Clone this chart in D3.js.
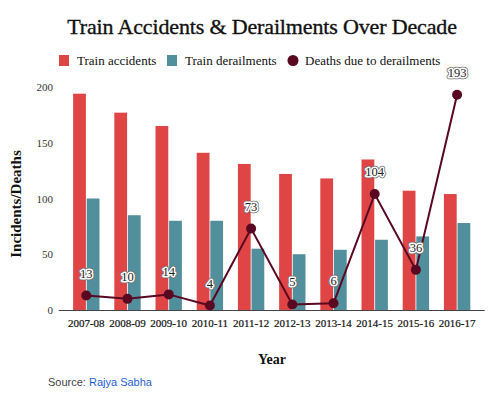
<!DOCTYPE html>
<html>
<head>
<meta charset="utf-8">
<script src="https://cdn.jsdelivr.net/npm/d3@7"></script>
<style>
  body { margin: 0; background: #fff; }
  svg { display: block; }
</style>
</head>
<body>
<div id="chart"></div>
<script>
// chart data
var years = ["2007-08", "2008-09", "2009-10", "2010-11", "2011-12", "2012-13", "2013-14", "2014-15", "2015-16", "2016-17"]
var accidents = [194, 177, 165, 141, 131, 122, 118, 135, 107, 104]
var derailments = [100, 85, 80, 80, 55, 50, 54, 63, 66, 78]
var deaths = [13, 10, 14, 4, 73, 5, 6, 104, 36, 193]
var yTicks = [0, 50, 100, 150, 200]

var width = 500,
    height = 394

var serif = "'Liberation Serif', 'DejaVu Serif', serif"

var svg = d3.select("#chart")
    .append("svg")
    .attr("width", width)
    .attr("height", height)

// scales
var x = d3.scaleBand()
    .domain(years)
    .range([65.7, 477.7])
    .paddingInner(0.36)
    .paddingOuter(0.18)

var xSub = d3.scaleBand()
    .domain(["acc", "der"])
    .range([0, x.bandwidth()])
    .paddingInner(0.06)

var y = d3.scaleLinear()
    .domain([0, 200])
    .range([310, 87])

// title
svg.append("text")
    .attr("x", 262)
    .attr("y", 34)
    .attr("text-anchor", "middle")
    .style("font-family", serif)
    .style("font-size", "22px")
    .style("letter-spacing", "-0.15px")
    .style("fill", "#111")
    .style("stroke", "#111")
    .style("stroke-width", "0.35px")
    .text("Train Accidents & Derailments Over Decade")

// legend
var legend = svg.append("g").style("font-family", serif).style("font-size", "13px").style("fill", "#111")
legend.append("rect").attr("x", 59).attr("y", 55).attr("width", 10).attr("height", 11).attr("fill", "#e04545")
legend.append("text").attr("x", 77).attr("y", 65).text("Train accidents")
legend.append("rect").attr("x", 167).attr("y", 55).attr("width", 10).attr("height", 11).attr("fill", "#528f9c")
legend.append("text").attr("x", 185).attr("y", 65).text("Train derailments")
legend.append("circle").attr("cx", 293).attr("cy", 60.5).attr("r", 5.5).attr("fill", "#5a0722")
legend.append("text").attr("x", 305).attr("y", 65).text("Deaths due to derailments")

// y tick labels (no axis line)
svg.selectAll(".ytick")
    .data(yTicks)
    .enter()
    .append("text")
    .attr("class", "ytick")
    .attr("x", 53)
    .attr("y", function(d) { return y(d) + 4 })
    .attr("text-anchor", "end")
    .style("font-family", serif)
    .style("font-size", "11px")
    .style("fill", "#333")
    .text(function(d) { return d })

// y axis title
svg.append("text")
    .attr("transform", "translate(21,204) rotate(-90)")
    .attr("text-anchor", "middle")
    .style("font-family", serif)
    .style("font-size", "15px")
    .style("font-weight", "bold")
    .style("fill", "#111")
    .text("Incidents/Deaths")

// bars
var groups = svg.selectAll(".grp")
    .data(years)
    .enter()
    .append("g")
    .attr("transform", function(d) { return "translate(" + x(d) + ",0)" })

groups.append("rect")
    .attr("x", xSub("acc"))
    .attr("y", function(d, i) { return y(accidents[i]) })
    .attr("width", xSub.bandwidth())
    .attr("height", function(d, i) { return y(0) - y(accidents[i]) })
    .attr("fill", "#e04545")

groups.append("rect")
    .attr("x", xSub("der"))
    .attr("y", function(d, i) { return y(derailments[i]) })
    .attr("width", xSub.bandwidth())
    .attr("height", function(d, i) { return y(0) - y(derailments[i]) })
    .attr("fill", "#528f9c")

// baseline
svg.append("line")
    .attr("x1", x.range()[0] - 7)
    .attr("x2", x.range()[1] + 7)
    .attr("y1", y(0) + 0.5)
    .attr("y2", y(0) + 0.5)
    .attr("stroke", "#444")
    .attr("stroke-width", 1.2)

// x tick labels
svg.selectAll(".xtick")
    .data(years)
    .enter()
    .append("text")
    .attr("class", "xtick")
    .attr("x", function(d) { return x(d) + x.bandwidth() / 2 })
    .attr("y", 327)
    .attr("text-anchor", "middle")
    .style("font-family", serif)
    .style("font-size", "11px")
    .style("fill", "#111")
    .style("stroke", "#111")
    .style("stroke-width", "0.2px")
    .text(function(d) { return d })

// x axis title
svg.append("text")
    .attr("x", 272)
    .attr("y", 364)
    .attr("text-anchor", "middle")
    .style("font-family", serif)
    .style("font-size", "14px")
    .style("font-weight", "bold")
    .style("fill", "#111")
    .text("Year")

// deaths line
var cx = function(i) { return x(years[i]) + x.bandwidth() / 2 }
var line = d3.line()
    .x(function(d, i) { return cx(i) })
    .y(function(d) { return y(d) })

svg.append("path")
    .datum(deaths)
    .attr("d", line)
    .attr("fill", "none")
    .attr("stroke", "#5a0722")
    .attr("stroke-width", 2)

svg.selectAll(".dot")
    .data(deaths)
    .enter()
    .append("circle")
    .attr("cx", function(d, i) { return cx(i) })
    .attr("cy", function(d) { return y(d) })
    .attr("r", 5)
    .attr("fill", "#5a0722")

// death labels with outlined halo
var lbl = svg.selectAll(".dlbl")
    .data(deaths)
    .enter()
    .append("g")
    .attr("transform", function(d, i) { return "translate(" + cx(i) + "," + (y(d) - 18) + ")" })
    .style("font-family", serif)
    .style("font-size", "12.5px")

lbl.append("text").attr("text-anchor", "middle").attr("stroke", "#666").attr("stroke-width", 4.5).attr("stroke-linejoin", "round").text(function(d) { return d })
lbl.append("text").attr("text-anchor", "middle").attr("stroke", "#fff").attr("stroke-width", 3).attr("stroke-linejoin", "round").attr("fill", "#fff").text(function(d) { return d })
lbl.append("text").attr("text-anchor", "middle").attr("fill", "#222").text(function(d) { return d })

// source
var src = svg.append("text")
    .attr("x", 48)
    .attr("y", 386)
    .style("font-family", "'Liberation Sans', Arial, sans-serif")
    .style("font-size", "11px")
src.append("tspan").attr("fill", "#444").text("Source: ")
src.append("tspan").attr("fill", "#1f5fd6").text("Rajya Sabha")
</script>
</body>
</html>
